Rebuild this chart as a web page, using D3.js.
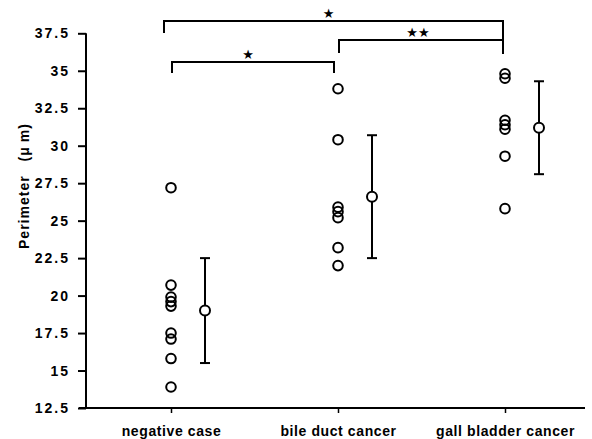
<!DOCTYPE html>
<html>
<head>
<meta charset="utf-8">
<script src="https://cdn.jsdelivr.net/npm/d3@7"></script>
<style>
  body { margin: 0; background: #fff; }
  text { font-family: "Liberation Sans", Arial, sans-serif; font-weight: bold; fill: #000; }
</style>
</head>
<body>
<div id="root"></div>
<script>
const categories = ["negative case", "bile duct cancer", "gall bladder cancer"]
const negativeCase = [27.2, 20.7, 19.9, 19.6, 19.3, 17.5, 17.1, 15.8, 13.9]
const bileDuct = [33.8, 30.4, 25.9, 25.6, 25.2, 23.2, 22.0]
const gallBladder = [34.8, 34.5, 31.7, 31.4, 31.1, 29.3, 25.8]
const means = [19.0, 26.6, 31.2]
const sds = [3.5, 4.1, 3.1]
const yTicks = [12.5, 15, 17.5, 20, 22.5, 25, 27.5, 30, 32.5, 35, 37.5]
const comparisons = [
    { from: 0, to: 2, label: "*" },
    { from: 1, to: 2, label: "**" },
    { from: 0, to: 1, label: "*" }
]

const width = 592
const height = 439
const groups = [negativeCase, bileDuct, gallBladder]

const svg = d3.select('#root').append('svg')
    .attr('width', width).attr('height', height)

const x = d3.scalePoint().domain(categories).range([171, 505])
const y = d3.scaleLinear().domain([12.5, 37.5]).range([408, 33.3])
const meanOffset = 34

// y axis
const yAxis = d3.axisLeft(y).tickValues(yTicks).tickSize(8).tickPadding(8)
    .tickFormat(d => String(d))
const gy = svg.append('g').attr('transform', 'translate(86,0)').call(yAxis)
gy.select('.domain').attr('stroke-width', 2).attr('d', `M0,${y(37.5)}V${y(12.5)}`)
gy.selectAll('.tick line').attr('stroke-width', 2)
gy.selectAll('.tick text').style('font-size', '14px').style('letter-spacing', '2px')

// x axis
const xAxis = d3.axisBottom(x).tickSize(5).tickPadding(13)
const gx = svg.append('g').attr('transform', `translate(0,${y(12.5)})`).call(xAxis)
gx.select('.domain').attr('stroke-width', 2).attr('d', 'M79,0H585')
gx.selectAll('.tick line').attr('stroke-width', 1.5)
gx.selectAll('.tick text').style('font-size', '14px').style('letter-spacing', '0.6px')

// y label
const ylab = svg.append('text')
    .attr('transform', `translate(29,186) rotate(-90)`)
    .attr('text-anchor', 'middle')
    .style('font-size', '14px')
    .style('letter-spacing', '1px')
ylab.append('tspan').text('Perimeter')
ylab.append('tspan').attr('dx', 14).text('(\u03bc')
ylab.append('tspan').attr('dx', 4).text('m)')

// raw points
groups.forEach((vals, i) => {
    svg.selectAll('.pt' + i).data(vals).enter().append('circle')
        .attr('class', 'pt' + i)
        .attr('cx', x(categories[i]))
        .attr('cy', d => y(d))
        .attr('r', 4.8)
        .attr('fill', 'none').attr('stroke', '#000').attr('stroke-width', 2)
})

// mean +- sd
const ms = svg.selectAll('.ms').data(means).enter().append('g').attr('class', 'ms')
ms.append('line')
    .attr('x1', (d, i) => x(categories[i]) + meanOffset)
    .attr('x2', (d, i) => x(categories[i]) + meanOffset)
    .attr('y1', (d, i) => y(d + sds[i])).attr('y2', (d, i) => y(d - sds[i]))
    .attr('stroke', '#000').attr('stroke-width', 2)
;[1, -1].forEach(s => {
    ms.append('line')
        .attr('x1', (d, i) => x(categories[i]) + meanOffset - 5)
        .attr('x2', (d, i) => x(categories[i]) + meanOffset + 5)
        .attr('y1', (d, i) => y(d + s * sds[i])).attr('y2', (d, i) => y(d + s * sds[i]))
        .attr('stroke', '#000').attr('stroke-width', 2)
})
ms.append('circle')
    .attr('cx', (d, i) => x(categories[i]) + meanOffset)
    .attr('cy', d => y(d))
    .attr('r', 5)
    .attr('fill', '#fff').attr('stroke', '#000').attr('stroke-width', 2)

// significance brackets
const bracketLevels = [21, 40, 62]
const leftDrop = [12, 13, 11]
const rightDrop = [33, 14, 11]
const leftShift = [-7, 1, 1]
const rightShift = [-2, -2, -4]
comparisons.forEach((c, k) => {
    const x0 = x(categories[c.from]) + leftShift[k]
    const x1 = x(categories[c.to]) + rightShift[k]
    const yl = bracketLevels[k]
    svg.append('path')
        .attr('d', `M${x0},${yl + leftDrop[k]}V${yl}H${x1}V${yl + rightDrop[k]}`)
        .attr('fill', 'none').attr('stroke', '#000').attr('stroke-width', 2)
    svg.append('text')
        .attr('x', k === 1 ? x1 - 85 : (x0 + x1) / 2 - 5)
        .attr('y', yl - 3)
        .attr('text-anchor', 'middle')
        .style('font-family', '"DejaVu Sans", sans-serif')
        .style('font-size', '13px')
        .text(c.label.replace(/\*/g, '\u2605'))
})
</script>
</body>
</html>
